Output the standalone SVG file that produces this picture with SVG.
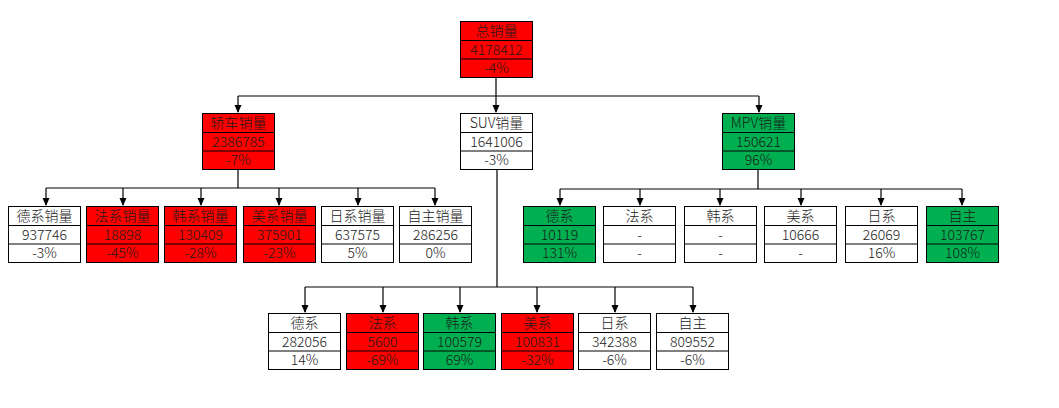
<svg xmlns="http://www.w3.org/2000/svg" width="1059" height="408" viewBox="0 0 1059 408">
<style>
.bx{stroke:#000;stroke-width:1}
.w{fill:#fff}.r{fill:#ff0000}.g{fill:#00b050}
.dv{stroke:#000;stroke-width:1}
text{font-family:"Noto Sans CJK SC","Liberation Sans",sans-serif;font-size:14px;text-anchor:middle;fill:#1a1a1a;font-weight:300}
.c{stroke:#000;stroke-width:1.2;fill:none}
</style>
<defs>
<marker id="ah" markerWidth="8" markerHeight="8" refX="7" refY="4" orient="auto" markerUnits="userSpaceOnUse">
<path d="M0,0.5 L8,4 L0,7.5 Z" fill="#000"/>
</marker>
<g id="frame">
<line class="dv" x1="0" y1="19" x2="72" y2="19"/>
<line class="dv" x1="0" y1="37.5" x2="72" y2="37.5"/>
</g>
</defs>
<rect width="1059" height="408" fill="#fff"/>
<g id="connectors">
<path class="c" d="M496,77 V96 M238,96 H759"/>
<path class="c" d="M238,96 V112" marker-end="url(#ah)"/>
<path class="c" d="M496,96 V112" marker-end="url(#ah)"/>
<path class="c" d="M759,96 V112" marker-end="url(#ah)"/>
<path class="c" d="M238,169 V188 M46,188 H435"/>
<path class="c" d="M46,188 V205" marker-end="url(#ah)"/>
<path class="c" d="M123,188 V205" marker-end="url(#ah)"/>
<path class="c" d="M201,188 V205" marker-end="url(#ah)"/>
<path class="c" d="M279,188 V205" marker-end="url(#ah)"/>
<path class="c" d="M358,188 V205" marker-end="url(#ah)"/>
<path class="c" d="M435,188 V205" marker-end="url(#ah)"/>
<path class="c" d="M758,169 V189 M560,189 H962"/>
<path class="c" d="M560,189 V205" marker-end="url(#ah)"/>
<path class="c" d="M640,189 V205" marker-end="url(#ah)"/>
<path class="c" d="M720,189 V205" marker-end="url(#ah)"/>
<path class="c" d="M801,189 V205" marker-end="url(#ah)"/>
<path class="c" d="M881,189 V205" marker-end="url(#ah)"/>
<path class="c" d="M962,189 V205" marker-end="url(#ah)"/>
<path class="c" d="M497,169 V287 M305,287 H693"/>
<path class="c" d="M305,287 V312" marker-end="url(#ah)"/>
<path class="c" d="M383,287 V312" marker-end="url(#ah)"/>
<path class="c" d="M460,287 V312" marker-end="url(#ah)"/>
<path class="c" d="M537,287 V312" marker-end="url(#ah)"/>
<path class="c" d="M615,287 V312" marker-end="url(#ah)"/>
<path class="c" d="M693,287 V312" marker-end="url(#ah)"/>
</g>

<g id="total" transform="translate(460.5,21.5)"><rect class="bx r" width="72" height="56"/><use href="#frame"/><text x="36" y="14.5">总销量</text><text x="36" y="33">4178412</text><text x="36" y="51.5">-4%</text></g>

<g id="sedan" transform="translate(202.5,113.5)"><rect class="bx r" width="72" height="56"/><use href="#frame"/><text x="36" y="14.5">轿车销量</text><text x="36" y="33">2386785</text><text x="36" y="51.5">-7%</text></g>
<g id="suv" transform="translate(460.5,113.5)"><rect class="bx w" width="72" height="56"/><use href="#frame"/><text x="36" y="14.5">SUV销量</text><text x="36" y="33">1641006</text><text x="36" y="51.5">-3%</text></g>
<g id="mpv" transform="translate(722.5,113.5)"><rect class="bx g" width="72" height="56"/><use href="#frame"/><text x="36" y="14.5">MPV销量</text><text x="36" y="33">150621</text><text x="36" y="51.5">96%</text></g>

<g id="sedan-de" transform="translate(8.5,206.5)"><rect class="bx w" width="72" height="56"/><use href="#frame"/><text x="36" y="14.5">德系销量</text><text x="36" y="33">937746</text><text x="36" y="51.5">-3%</text></g>
<g id="sedan-fa" transform="translate(86.5,206.5)"><rect class="bx r" width="72" height="56"/><use href="#frame"/><text x="36" y="14.5">法系销量</text><text x="36" y="33">18898</text><text x="36" y="51.5">-45%</text></g>
<g id="sedan-han" transform="translate(164.5,206.5)"><rect class="bx r" width="72" height="56"/><use href="#frame"/><text x="36" y="14.5">韩系销量</text><text x="36" y="33">130409</text><text x="36" y="51.5">-28%</text></g>
<g id="sedan-mei" transform="translate(243.5,206.5)"><rect class="bx r" width="72" height="56"/><use href="#frame"/><text x="36" y="14.5">美系销量</text><text x="36" y="33">375901</text><text x="36" y="51.5">-23%</text></g>
<g id="sedan-ri" transform="translate(321.5,206.5)"><rect class="bx w" width="72" height="56"/><use href="#frame"/><text x="36" y="14.5">日系销量</text><text x="36" y="33">637575</text><text x="36" y="51.5">5%</text></g>
<g id="sedan-zz" transform="translate(399.5,206.5)"><rect class="bx w" width="72" height="56"/><use href="#frame"/><text x="36" y="14.5">自主销量</text><text x="36" y="33">286256</text><text x="36" y="51.5">0%</text></g>

<g id="mpv-de" transform="translate(523.5,206.5)"><rect class="bx g" width="72" height="56"/><use href="#frame"/><text x="36" y="14.5">德系</text><text x="36" y="33">10119</text><text x="36" y="51.5">131%</text></g>
<g id="mpv-fa" transform="translate(603.5,206.5)"><rect class="bx w" width="72" height="56"/><use href="#frame"/><text x="36" y="14.5">法系</text><text x="36" y="33">-</text><text x="36" y="51.5">-</text></g>
<g id="mpv-han" transform="translate(684.5,206.5)"><rect class="bx w" width="72" height="56"/><use href="#frame"/><text x="36" y="14.5">韩系</text><text x="36" y="33">-</text><text x="36" y="51.5">-</text></g>
<g id="mpv-mei" transform="translate(764.5,206.5)"><rect class="bx w" width="72" height="56"/><use href="#frame"/><text x="36" y="14.5">美系</text><text x="36" y="33">10666</text><text x="36" y="51.5">-</text></g>
<g id="mpv-ri" transform="translate(845.5,206.5)"><rect class="bx w" width="72" height="56"/><use href="#frame"/><text x="36" y="14.5">日系</text><text x="36" y="33">26069</text><text x="36" y="51.5">16%</text></g>
<g id="mpv-zz" transform="translate(926.5,206.5)"><rect class="bx g" width="72" height="56"/><use href="#frame"/><text x="36" y="14.5">自主</text><text x="36" y="33">103767</text><text x="36" y="51.5">108%</text></g>

<g id="suv-de" transform="translate(268.5,313.5)"><rect class="bx w" width="72" height="56"/><use href="#frame"/><text x="36" y="14.5">德系</text><text x="36" y="33">282056</text><text x="36" y="51.5">14%</text></g>
<g id="suv-fa" transform="translate(346.5,313.5)"><rect class="bx r" width="72" height="56"/><use href="#frame"/><text x="36" y="14.5">法系</text><text x="36" y="33">5600</text><text x="36" y="51.5">-69%</text></g>
<g id="suv-han" transform="translate(423.5,313.5)"><rect class="bx g" width="72" height="56"/><use href="#frame"/><text x="36" y="14.5">韩系</text><text x="36" y="33">100579</text><text x="36" y="51.5">69%</text></g>
<g id="suv-mei" transform="translate(501.5,313.5)"><rect class="bx r" width="72" height="56"/><use href="#frame"/><text x="36" y="14.5">美系</text><text x="36" y="33">100831</text><text x="36" y="51.5">-32%</text></g>
<g id="suv-ri" transform="translate(578.5,313.5)"><rect class="bx w" width="72" height="56"/><use href="#frame"/><text x="36" y="14.5">日系</text><text x="36" y="33">342388</text><text x="36" y="51.5">-6%</text></g>
<g id="suv-zz" transform="translate(656.5,313.5)"><rect class="bx w" width="72" height="56"/><use href="#frame"/><text x="36" y="14.5">自主</text><text x="36" y="33">809552</text><text x="36" y="51.5">-6%</text></g>
</svg>
